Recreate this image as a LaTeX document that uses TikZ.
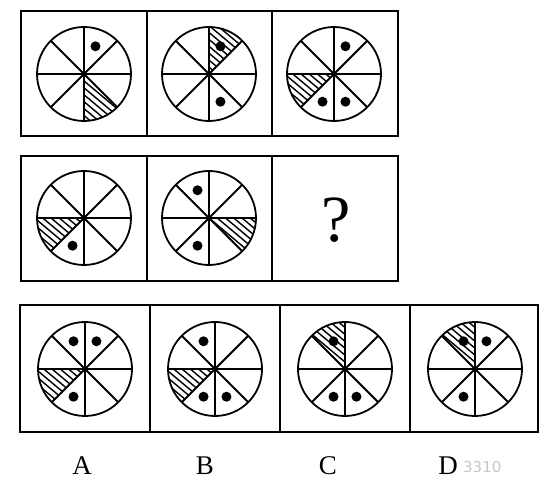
\documentclass[tikz,border=0pt]{standalone}
\usepackage{fontspec}
\setmainfont{Liberation Serif}
\newfontfamily\wmfont{DejaVu Sans}
\tikzset{
  boxline/.style={line width=2pt, draw=black},
  wheelline/.style={line width=1.8pt, draw=black},
  hatchline/.style={line width=1.4pt, draw=black},
  dotfill/.style={fill=black},
  optlabel/.style={font=\fontsize{27}{27}\selectfont, inner sep=0pt}
}
\newcommand\mywheel[4]{%
  \begin{scope}[shift={(#1,#2)}]
    \ifnum#3>-1
      \begin{scope}
        \clip (0,0) -- ({#3*45}:47) arc[start angle={#3*45}, end angle={#3*45+45}, radius=47] -- cycle;
        \begin{scope}[rotate=-40]
          \foreach \k in {-12,...,12} \draw[hatchline] (-60,{\k*5.3}) -- (60,{\k*5.3});
        \end{scope}
      \end{scope}
    \fi
    \foreach \a in {0,45,90,135} \draw[wheelline] (\a:47) -- ({\a+180}:47);
    \draw[wheelline] (0,0) circle (47);
    \foreach \s in {#4} \fill[dotfill] ({\s*45+22.5}:30) circle (5);
  \end{scope}}
\begin{document}
\begin{tikzpicture}[x=1pt,y=1pt]
\useasboundingbox (0,0) rectangle (550,481);
\fill[white] (0,0) rectangle (550,481);
% row 1
\draw[boxline] (21,345) rectangle (146.7,470);
\draw[boxline] (146.7,345) rectangle (272.3,470);
\draw[boxline] (272.3,345) rectangle (398,470);
% row 2
\draw[boxline] (21,200) rectangle (146.7,325);
\draw[boxline] (146.7,200) rectangle (272.3,325);
\draw[boxline] (272.3,200) rectangle (398,325);
% row 3
\draw[boxline] (20,49) rectangle (150,176);
\draw[boxline] (150,49) rectangle (280,176);
\draw[boxline] (280,49) rectangle (410,176);
\draw[boxline] (410,49) rectangle (538,176);
% wheels
\mywheel{84}{407}{6}{1}
\mywheel{209}{407}{1}{1,6}
\mywheel{334}{407}{4}{1,5,6}
\mywheel{84}{263}{4}{5}
\mywheel{209}{263}{7}{2,5}
\mywheel{85}{112}{4}{1,2,5}
\mywheel{215}{112}{4}{2,5,6}
\mywheel{345}{112}{2}{2,5,6}
\mywheel{475}{112}{2}{1,2,5}
% question mark
\node (q) at (336,261) {\fontsize{66}{66}\selectfont ?};
% labels
\node[optlabel] (la) at (82,15) {A};
\node[optlabel] (lb) at (205,15) {B};
\node[optlabel] (lc) at (328,15) {C};
\node[optlabel] (ld) at (448,15) {D};
\node[anchor=west, inner sep=0pt, text=black!22, font=\wmfont\fontsize{15}{15}\selectfont] (wm) at (463,14) {3310};
\end{tikzpicture}
\end{document}
